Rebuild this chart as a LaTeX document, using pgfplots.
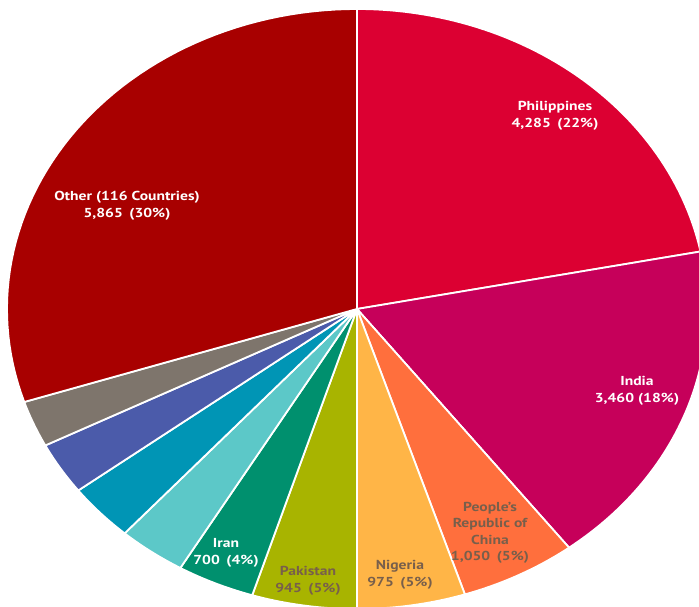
\documentclass[border=0pt]{standalone}
\usepackage{pgfplots}
\pgfplotsset{compat=1.18}
\usepackage{pgfplotstable}
\usepackage{fontspec}
\setmainfont{PT Sans}
\definecolor{cPhil}{RGB}{220,0,50}
\definecolor{cInd}{RGB}{198,0,90}
\definecolor{cChn}{RGB}{255,111,61}
\definecolor{cNga}{RGB}{255,181,71}
\definecolor{cPak}{RGB}{168,180,0}
\definecolor{cIrn}{RGB}{0,144,110}
\definecolor{cLT}{RGB}{92,200,200}
\definecolor{cTeal}{RGB}{0,149,181}
\definecolor{cBlue}{RGB}{75,91,170}
\definecolor{cGray}{RGB}{126,117,108}
\definecolor{cOther}{RGB}{168,0,0}
\definecolor{darktxt}{RGB}{120,95,75}
\pgfplotstableread{
label value col
Philippines 4285 cPhil
India 3460 cInd
China 1050 cChn
Nigeria 975 cNga
Pakistan 945 cPak
Iran 700 cIrn
A 612 cLT
B 607 cTeal
C 552 cBlue
D 488 cGray
Other 5865 cOther
}\datatable
\begin{document}
\begin{tikzpicture}
\useasboundingbox (0,0) rectangle (699pt,607pt);
\begin{axis}[at={(0,0)}, anchor=south west, width=699pt, height=607pt,
  scale only axis, xmin=0, xmax=699, ymin=0, ymax=607, hide axis, clip=true]
\pgfmathsetmacro{\cum}{0}
\def\total{19.539}
\pgfplotsforeachungrouped \i in {0,...,10}{%
  \pgfplotstablegetelem{\i}{value}\of\datatable \let\val\pgfplotsretval
  \pgfplotstablegetelem{\i}{col}\of\datatable \let\colname\pgfplotsretval
  \pgfmathsetmacro{\angA}{90-360*\cum/\total}
  \pgfmathsetmacro{\cum}{\cum+\val/1000}
  \pgfmathsetmacro{\angB}{90-360*\cum/\total}
  \edef\temp{\noexpand\addplot[fill=\colname, draw=white, line width=1.8pt, line join=round,
    domain=\angB:\angA, samples=60, variable=\noexpand\t]
    ({357+350*cos(\noexpand\t)},{298+300*sin(\noexpand\t)}) -- (axis cs:357,298) -- cycle;}
  \temp
}
\tikzset{lbl/.style={align=center, xscale=1.2, transform shape, font=\bfseries\fontsize{13}{16.5}\selectfont}}
\node[lbl, text=white] at (axis cs:555,491) {Philippines\\4,285\, (22\%)};
\node[lbl, text=white] at (axis cs:127,401) {Other (116 Countries)\\5,865\, (30\%)};
\node[lbl, text=white] at (axis cs:637,216) {India\\3,460 (18\%)};
\node[lbl, text=darktxt] at (axis cs:490,74) {People's\\Republic of\\China\\1,050\, (5\%)};
\node[lbl, text=darktxt] at (axis cs:400,32) {Nigeria\\975\, (5\%)};
\node[lbl, text=darktxt] at (axis cs:308,26) {Pakistan\\945\, (5\%)};
\node[lbl, text=white] at (axis cs:226,54) {Iran\\700\, (4\%)};
\end{axis}
\end{tikzpicture}
\end{document}
